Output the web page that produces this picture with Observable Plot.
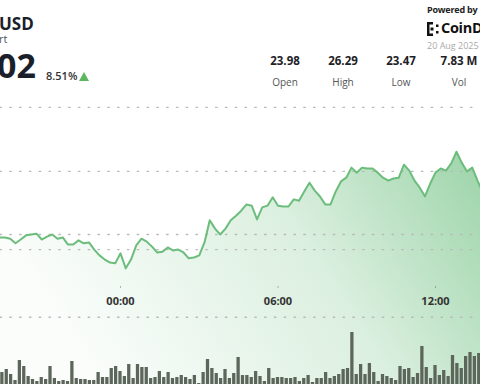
<!DOCTYPE html>
<html>
<head>
<meta charset="utf-8">
<script src="https://cdn.jsdelivr.net/npm/d3@7"></script>
<script src="https://cdn.jsdelivr.net/npm/@observablehq/plot@0.6"></script>
<style>
  html, body { margin: 0; padding: 0; background: #fff; }
  #wrap { position: relative; width: 480px; height: 384px; overflow: hidden; font-family: "Open Sans", "Noto Sans", sans-serif; background: #fff; }
  .t { position: absolute; line-height: 1; white-space: nowrap; }
  .abs { position: absolute; left: 0; }
  .stat { position: absolute; width: 60px; text-align: center; line-height: 1; }
  .sv { font-weight: 700; font-size: 11.5px; color: #1e2126; }
  .sl { font-size: 10px; color: #555; }
</style>
</head>
<body>
<div id="wrap">
  <div id="price" class="abs" style="top:0"></div>
  <div id="vol" class="abs" style="top:324px"></div>

  <div class="t" style="left:-1px; top:15px; font-size:17px; font-weight:700; color:#1b1f2a;">USD</div>
  <div class="t" style="left:-1px; top:33px; font-size:11px; color:#555;">rt</div>
  <div class="t" style="left:-3px; top:48px; font-size:34px; font-weight:700; color:#1b1f2a;">02</div>
  <div class="t" style="left:46px; top:70px; font-size:11px; font-weight:600; color:#333;">8.51%</div>
  <div style="position:absolute; left:79px; top:72px; width:0; height:0; border-left:5px solid transparent; border-right:5px solid transparent; border-bottom:9px solid #5cb85c;"></div>

  <div class="t" style="left:427px; top:5px; font-size:9px; font-weight:700; color:#222; letter-spacing:-0.2px;">Powered by</div>
  <svg style="position:absolute; left:427px; top:22px" width="13" height="14" viewBox="0 0 13 14">
    <rect x="0" y="0" width="2.5" height="14" fill="#111"/>
    <rect x="0" y="0" width="6" height="2.5" fill="#111"/>
    <rect x="0" y="11.5" width="6" height="2.5" fill="#111"/>
    <rect x="3.5" y="5.5" width="3" height="3" fill="#111"/>
    <rect x="9" y="2.5" width="2.5" height="2.5" fill="#111"/>
    <rect x="9" y="9" width="2.5" height="2.5" fill="#111"/>
  </svg>
  <div class="t" style="left:441px; top:21px; font-size:14.5px; font-weight:700; color:#111; letter-spacing:-0.3px;">CoinDesk</div>
  <div class="t" style="left:427px; top:41px; font-size:9px; color:#aaa;">20 Aug 2025</div>

  <div id="stats"></div>
</div>
<script>
// ---- data ----
const statLabels = ["Open", "High", "Low", "Vol"];
const statValues = ["23.98", "26.29", "23.47", "7.83 M"];

// LINK/USD price, sampled every 12 minutes from 19 Aug 19:24
const prices = [
  24.21, 24.21, 24.18, 24.07, 24.16, 24.26, 24.28, 24.30, 24.16, 24.23,
  24.28, 24.18, 24.21, 24.04, 24.04, 24.14, 24.07, 24.09, 23.92, 23.78,
  23.68, 23.61, 23.59, 23.83, 23.47, 23.68, 24.02, 24.18, 24.11, 23.99,
  23.85, 23.87, 23.97, 23.90, 23.92, 23.85, 23.71, 23.73, 23.78, 24.09,
  24.62, 24.42, 24.28, 24.42, 24.62, 24.73, 24.85, 25.00, 24.97, 24.64,
  24.93, 24.97, 25.17, 24.97, 24.95, 24.95, 25.12, 25.09, 25.31, 25.52,
  25.33, 25.19, 25.00, 25.00, 25.31, 25.55, 25.64, 25.88, 25.76, 25.88,
  25.86, 25.86, 25.76, 25.64, 25.57, 25.62, 25.64, 25.95, 25.81, 25.57,
  25.40, 25.19, 25.50, 25.76, 25.86, 25.81, 25.98, 26.26, 26.00, 25.79,
  25.88, 25.57, 25.29
];

// volume (thousands), one bar every 10 minutes from 19 Aug 19:30
const volumes = [
  13,16,11,5,25,19,9,6,4,8,6,19,7,4,5,4,24,7,6,6,5,5,13,8,8,17,19,14,9,21,7,21,18,18,7,8,14,8,13,7,8,10,8,6,10,2,13,26,17,12,7,16,7,12,28,
  10,10,8,14,9,4,17,7,8,8,7,7,8,4,7,10,3,7,7,13,7,9,11,16,17,53,11,21,11,22,13,4,11,9,7,5,19,16,17,8,12,39,18,7,20,10,15,9,30,22,17,29,33,29,32
];

const tickTimes = [new Date(2025,7,20,0,0), new Date(2025,7,20,6,0), new Date(2025,7,20,12,0)];
const gridLevels = [27.32, 25.79, 24.28, 23.92, 22.30];

// ---- scales/settings ----
const xDomain = [new Date(2025,7,19,19,25,43), new Date(2025,7,20,13,42,51)];
const priceDomain = [23.036, 29.879];
const areaBase = 20.69;

const priceData = prices.map((p, i) => ({t: new Date(2025,7,19,19,24 + 12*i), p}));
const volData = volumes.map((v, i) => ({t: new Date(2025,7,19,19,30 + 10*i), v}));

// stats
const stats = document.getElementById("stats");
const statCenters = [285, 343, 401, 459];
statLabels.forEach((l, i) => {
  const a = document.createElement("div");
  a.className = "stat sv"; a.style.left = (statCenters[i]-30) + "px"; a.style.top = "55px"; a.textContent = statValues[i];
  const b = document.createElement("div");
  b.className = "stat sl"; b.style.left = (statCenters[i]-30) + "px"; b.style.top = "77px"; b.textContent = l;
  stats.appendChild(a); stats.appendChild(b);
});

const pricePlot = Plot.plot({
  width: 480, height: 384,
  marginTop: 0, marginRight: 0, marginBottom: 98, marginLeft: 0,
  style: {background: "transparent", fontFamily: "Open Sans, sans-serif", fontSize: "11px", fontWeight: "bold", overflow: "visible"},
  x: {type: "time", domain: xDomain},
  y: {domain: priceDomain, axis: null},
  marks: [
    Plot.areaY(priceData, {x: "t", y1: areaBase, y2: "p", fill: "url(#pgrad)", curve: "linear"}),
    Plot.ruleY(gridLevels, {stroke: "#b9b9b9", strokeWidth: 1.3, strokeDasharray: "1.5,8.3", strokeLinecap: "round"}),
    Plot.lineY(priceData, {x: "t", y: "p", stroke: "#6cbd7c", strokeWidth: 2, curve: "linear"}),
    Plot.axisX({ticks: tickTimes, tickFormat: d3.timeFormat("%H:%M"), tickSize: 2, tickPadding: 9, color: "#333", strokeOpacity: 0.35, fontWeight: "bold", label: null})
  ]
});
const defs = d3.select(pricePlot).insert("defs", ":first-child");
const g = defs.append("linearGradient").attr("id", "pgrad").attr("gradientUnits", "userSpaceOnUse")
  .attr("x1", 480).attr("y1", 140).attr("x2", 100).attr("y2", 384);
g.append("stop").attr("offset", 0).attr("stop-color", "#5cb870").attr("stop-opacity", 0.62);
g.append("stop").attr("offset", 0.45).attr("stop-color", "#5cb870").attr("stop-opacity", 0.22);
g.append("stop").attr("offset", 1).attr("stop-color", "#5cb870").attr("stop-opacity", 0.03);
document.getElementById("price").appendChild(pricePlot);

const volPlot = Plot.plot({
  width: 480, height: 61,
  marginTop: 0, marginRight: 0, marginBottom: 0, marginLeft: 0,
  style: {background: "transparent", overflow: "visible"},
  x: {type: "time", domain: xDomain, axis: null},
  y: {domain: [0, 61], axis: null},
  marks: [
    Plot.rectY(volData, {x1: d => new Date(+d.t - 5*60000), x2: d => new Date(+d.t + 5*60000), y: "v", insetLeft: 0.55, insetRight: 0.55, fill: "#5d665b"})
  ]
});
document.getElementById("vol").appendChild(volPlot);
</script>
</body>
</html>
